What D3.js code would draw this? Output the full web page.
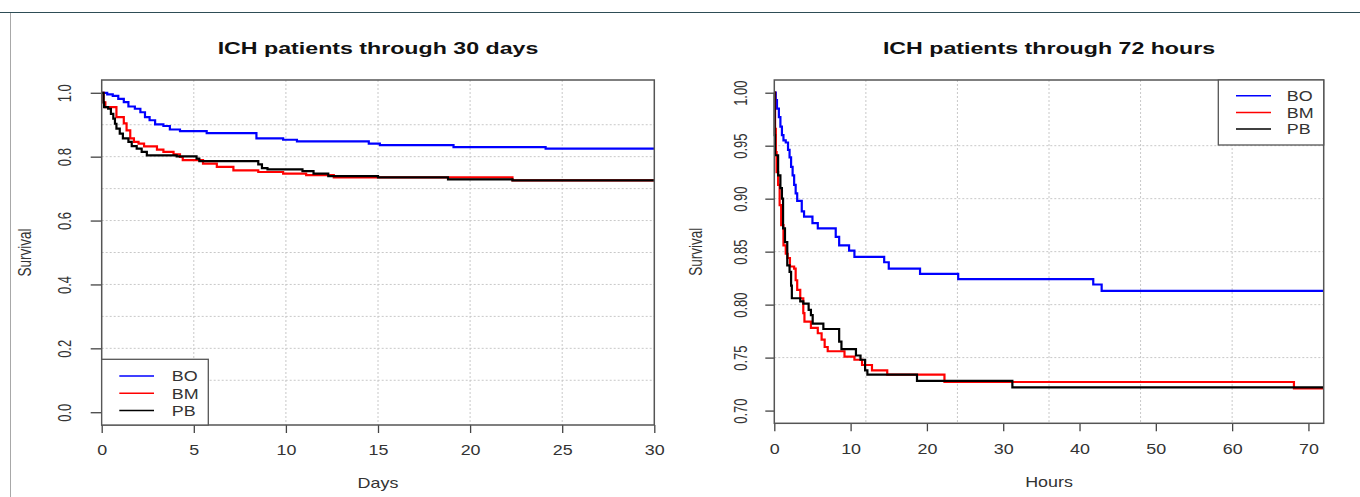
<!DOCTYPE html>
<html>
<head>
<meta charset="utf-8">
<script src="https://cdn.jsdelivr.net/npm/d3@7"></script>
<style>
  body { margin: 0; background: #fff; }
  svg { display: block; font-family: "Liberation Sans", Arial, sans-serif; }
</style>
</head>
<body>
<div id="chart"></div>
<script>
// series
const seriesNames = ["BO", "BM", "PB"];
const seriesColors = ["#0000ff", "#ff0000", "#000000"];

// 30 days panel (time in days)
const daysBO = [0, 0.3, 0.6, 0.9, 1.2, 1.45, 1.8, 2.1, 2.35, 2.6, 2.9, 3.35, 3.7, 4.25, 5.7, 8.4, 9.85, 10.6, 14.5, 15.1, 19.1, 24.1, 30];
const survDaysBO = [1.0, 0.995, 0.99, 0.981, 0.971, 0.957, 0.95, 0.939, 0.924, 0.914, 0.901, 0.896, 0.885, 0.88, 0.874, 0.857, 0.853, 0.848, 0.841, 0.836, 0.83, 0.825, 0.825];
const daysBM = [0, 0.1, 0.2, 0.8, 1.2, 1.35, 1.55, 1.75, 2.0, 2.3, 3.0, 3.35, 3.9, 4.25, 4.4, 5.5, 6.25, 7.15, 8.5, 9.85, 11.1, 12.6, 22.3, 30];
const survDaysBM = [1.0, 0.97, 0.955, 0.924, 0.904, 0.882, 0.857, 0.846, 0.841, 0.832, 0.822, 0.815, 0.807, 0.799, 0.789, 0.778, 0.768, 0.757, 0.752, 0.747, 0.742, 0.735, 0.726, 0.726];
const daysPB = [0, 0.1, 0.13, 0.35, 0.5, 0.63, 0.72, 0.8, 0.98, 1.15, 1.45, 1.63, 1.9, 2.17, 2.45, 4.07, 5.15, 5.3, 8.5, 8.7, 9.0, 10.9, 11.5, 12.3, 15.0, 18.8, 22.3, 30];
const survDaysPB = [1.0, 0.97, 0.955, 0.95, 0.934, 0.919, 0.903, 0.888, 0.872, 0.857, 0.846, 0.833, 0.825, 0.815, 0.804, 0.801, 0.794, 0.786, 0.776, 0.764, 0.76, 0.755, 0.747, 0.739, 0.735, 0.729, 0.726, 0.726];

// 72 hours panel (time in hours)
const hoursBO = [0, 0.2, 0.35, 0.6, 0.8, 1.0, 1.2, 1.5, 1.8, 2.0, 2.2, 2.4, 2.6, 2.8, 3.0, 3.6, 3.9, 5.0, 5.7, 8.05, 8.5, 9.8, 10.5, 14.4, 15.0, 19.1, 24.1, 41.8, 42.9, 72];
const survHoursBO = [1.0, 0.993, 0.985, 0.977, 0.968, 0.96, 0.955, 0.953, 0.946, 0.939, 0.93, 0.922, 0.913, 0.905, 0.898, 0.888, 0.883, 0.877, 0.872, 0.864, 0.856, 0.851, 0.845, 0.84, 0.834, 0.829, 0.824, 0.819, 0.813, 0.813];
const hoursBM = [0, 0.1, 0.2, 0.3, 0.5, 0.7, 0.9, 1.2, 1.5, 1.75, 2.05, 2.6, 2.8, 3.0, 3.4, 3.8, 3.95, 4.8, 5.7, 6.2, 6.6, 7.0, 9.2, 10.5, 11.5, 12.8, 14.8, 22.3, 68.1, 72];
const survHoursBM = [1.0, 0.966, 0.944, 0.925, 0.913, 0.894, 0.875, 0.856, 0.848, 0.844, 0.836, 0.834, 0.823, 0.814, 0.806, 0.792, 0.784, 0.778, 0.773, 0.767, 0.76, 0.756, 0.751, 0.748, 0.743, 0.738, 0.734, 0.727, 0.721, 0.721];
const hoursPB = [0, 0.05, 0.1, 0.5, 0.8, 1.0, 1.15, 1.4, 1.7, 2.0, 2.2, 2.3, 3.4, 3.8, 4.5, 4.8, 5.03, 6.43, 8.5, 8.8, 10.7, 11.3, 11.9, 12.2, 18.7, 31.2, 72];
const survHoursPB = [1.0, 0.96, 0.941, 0.922, 0.91, 0.9, 0.872, 0.859, 0.837, 0.831, 0.818, 0.806, 0.803, 0.801, 0.795, 0.79, 0.782, 0.777, 0.765, 0.758, 0.752, 0.748, 0.738, 0.734, 0.728, 0.722, 0.722];

// ticks and grids
const daysTicks = [0, 5, 10, 15, 20, 25, 30];
const daysSurvTicks = [0, 0.2, 0.4, 0.6, 0.8, 1.0];
const daysGridX = [5, 10, 15, 20, 25];
const daysGridY = [0.1, 0.2, 0.3, 0.4, 0.5, 0.6, 0.7, 0.8, 0.9];
const hoursTicks = [0, 10, 20, 30, 40, 50, 60, 70];
const hoursSurvTicks = [0.70, 0.75, 0.80, 0.85, 0.90, 0.95, 1.00];
const hoursGridX = [12, 24, 36, 48, 60];
const hoursGridY = [0.75, 0.80, 0.85, 0.90, 0.95];

const W = 1360, H = 497;
const SX = 1.28; // text in the picture is stretched sideways

const svg = d3.select("#chart").append("svg")
  .attr("width", W)
  .attr("height", H);

svg.append("rect").attr("width", W).attr("height", H).attr("fill", "#fff");
// outer frame
svg.append("line").attr("x1", 0).attr("x2", W).attr("y1", 12.5).attr("y2", 12.5)
  .attr("stroke", "#2e4d56").attr("stroke-width", 1.2);
svg.append("line").attr("x1", 10.5).attr("x2", 10.5).attr("y1", 13).attr("y2", H)
  .attr("stroke", "#a8a8a8").attr("stroke-width", 1);

const panels = [
  {
    title: "ICH patients through 30 days", xLabel: "Days",
    left: 101.7, right: 654.3, top: 80, bottom: 425,
    xDomain: [0, 30], yDomain: [-0.04, 1.04],
    xTicks: daysTicks, yTicks: daysSurvTicks, yFmt: d3.format(".1f"),
    gridX: daysGridX, gridY: daysGridY,
    times: [daysBO, daysBM, daysPB], surv: [survDaysBO, survDaysBM, survDaysPB],
    yTickLen: 11, yLabelOff: 36.5, survivalX: 24,
    legend: { x0: 101.7, x1: 208.3, y0: 359.3, y1: 425, lx0: 119.3, lx1: 154, tx: 171.7, ty: 376, dy: 17.3 }
  },
  {
    title: "ICH patients through 72 hours", xLabel: "Hours",
    left: 774.3, right: 1323.7, top: 80, bottom: 423.3,
    xDomain: [0, 72], yDomain: [0.688, 1.012],
    xTicks: hoursTicks, yTicks: hoursSurvTicks, yFmt: d3.format(".2f"),
    gridX: hoursGridX, gridY: hoursGridY,
    times: [hoursBO, hoursBM, hoursPB], surv: [survHoursBO, survHoursBM, survHoursPB],
    yTickLen: 9, yLabelOff: 33.5, survivalX: 695.5,
    legend: { x0: 1218.3, x1: 1323.7, y0: 80, y1: 145, lx0: 1236, lx1: 1271, tx: 1286.7, ty: 95.7, dy: 16.7 }
  }
];

function drawPanel(p) {
  const g = svg.append("g");
  const x = d3.scaleLinear().domain(p.xDomain).range([p.left, p.right]);
  const y = d3.scaleLinear().domain(p.yDomain).range([p.bottom, p.top]);

  // grid
  g.selectAll(".gx").data(p.gridX).enter().append("line")
    .attr("x1", d => x(d)).attr("x2", d => x(d))
    .attr("y1", p.top).attr("y2", p.bottom)
    .attr("stroke", "#c8c8c8").attr("stroke-dasharray", "2,2");
  g.selectAll(".gy").data(p.gridY).enter().append("line")
    .attr("x1", p.left).attr("x2", p.right)
    .attr("y1", d => y(d)).attr("y2", d => y(d))
    .attr("stroke", "#c8c8c8").attr("stroke-dasharray", "2,2");

  // curves
  const line = d3.line()
    .x(d => x(d[0]))
    .y(d => y(d[1]))
    .curve(d3.curveStepAfter);
  p.times.forEach((t, i) => {
    const pts = t.map((v, j) => [v, p.surv[i][j]]);
    g.append("path").datum(pts)
      .attr("d", line)
      .attr("fill", "none")
      .attr("stroke", seriesColors[i])
      .attr("stroke-width", 2.2);
  });

  // x axis
  const xAxis = g.append("g")
    .attr("transform", `translate(0,${p.bottom})`)
    .call(d3.axisBottom(x).tickValues(p.xTicks).tickSize(8).tickSizeOuter(0));
  xAxis.select(".domain").remove();
  xAxis.selectAll(".tick line").attr("stroke", "#444").attr("stroke-width", 1.3);
  xAxis.selectAll(".tick text")
    .attr("y", null).attr("dy", null)
    .attr("dominant-baseline", "central")
    .attr("transform", `translate(0,25) scale(${SX},1)`)
    .attr("fill", "#333").style("font-size", "14px");

  // y axis
  const yAxis = g.append("g")
    .attr("transform", `translate(${p.left},0)`)
    .call(d3.axisLeft(y).tickValues(p.yTicks).tickFormat(p.yFmt).tickSize(p.yTickLen).tickSizeOuter(0));
  yAxis.select(".domain").remove();
  yAxis.selectAll(".tick line").attr("stroke", "#444").attr("stroke-width", 1.3);
  yAxis.selectAll(".tick text")
    .attr("x", null).attr("dy", null)
    .attr("text-anchor", "middle")
    .attr("dominant-baseline", "central")
    .attr("transform", `translate(${-p.yLabelOff},0) scale(1.35,1) rotate(-90)`)
    .attr("fill", "#333").style("font-size", "13px");

  // box
  g.append("rect")
    .attr("x", p.left).attr("y", p.top)
    .attr("width", p.right - p.left).attr("height", p.bottom - p.top)
    .attr("fill", "none").attr("stroke", "#555").attr("stroke-width", 1.5);

  // titles
  g.append("text")
    .attr("transform", `translate(${(p.left + p.right) / 2},48) scale(1.45,1)`)
    .attr("text-anchor", "middle").attr("dominant-baseline", "central")
    .style("font-size", "16px").style("font-weight", "bold")
    .attr("fill", "#111").text(p.title);
  g.append("text")
    .attr("transform", `translate(${(p.left + p.right) / 2},${p.bottom + 58}) scale(${SX},1)`)
    .attr("text-anchor", "middle").attr("dominant-baseline", "central")
    .style("font-size", "14px").attr("fill", "#333").text(p.xLabel);
  g.append("text")
    .attr("transform", `translate(${p.survivalX},${(p.top + p.bottom) / 2}) scale(1.35,1) rotate(-90)`)
    .attr("text-anchor", "middle").attr("dominant-baseline", "central")
    .style("font-size", "13.5px").attr("fill", "#333").text("Survival");

  // legend
  const L = p.legend;
  const lg = g.append("g");
  lg.append("rect")
    .attr("x", L.x0).attr("y", L.y0)
    .attr("width", L.x1 - L.x0).attr("height", L.y1 - L.y0)
    .attr("fill", "#fff").attr("stroke", "#555").attr("stroke-width", 1.3);
  seriesNames.forEach((name, i) => {
    const yy = L.ty + i * L.dy;
    lg.append("line")
      .attr("x1", L.lx0).attr("x2", L.lx1).attr("y1", yy).attr("y2", yy)
      .attr("stroke", seriesColors[i]).attr("stroke-width", 1.5);
    lg.append("text")
      .attr("transform", `translate(${L.tx},${yy}) scale(${SX},1)`)
      .attr("dominant-baseline", "central")
      .style("font-size", "14px").attr("fill", "#333").text(name);
  });
}

panels.forEach(drawPanel);
</script>
</body>
</html>
